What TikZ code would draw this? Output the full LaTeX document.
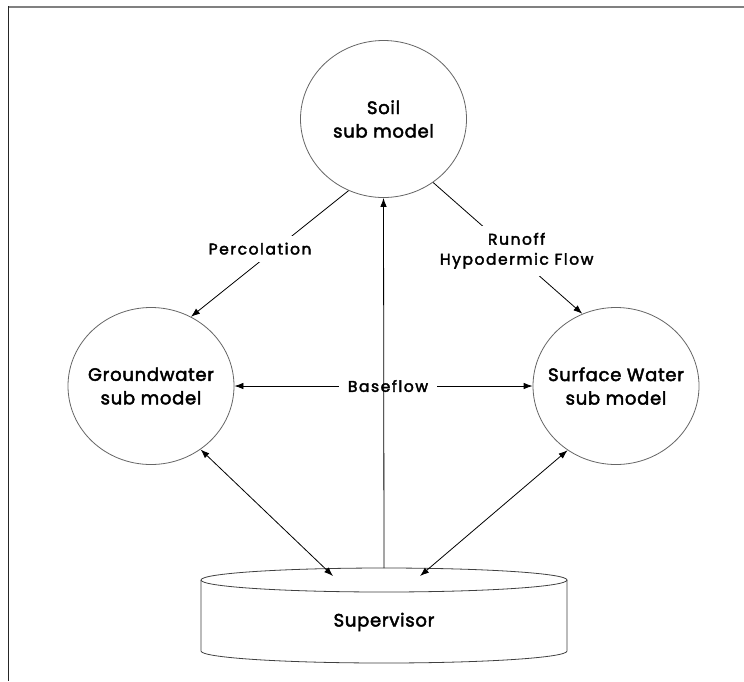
\documentclass[tikz,border=0pt]{standalone}
\usepackage{fontspec}
\setmainfont{Poppins}
\newfontfamily\nodefont{Poppins}[UprightFeatures={FakeBold=2.5},LetterSpace=4]
\newfontfamily\lblfont{Poppins}[UprightFeatures={FakeBold=2.5},LetterSpace=10]
\newfontfamily\widefont{Poppins}[UprightFeatures={FakeBold=2.5},LetterSpace=10]
\usetikzlibrary{shapes.geometric,arrows.meta}
\begin{document}
\begin{tikzpicture}[x=1pt,y=-1pt,
  submodel/.style={draw=black!60,line width=0.8pt,ellipse,inner sep=0pt,
    minimum width=166pt,minimum height=157pt},
  inside/.style={font=\nodefont\fontsize{18}{23.5}\selectfont,align=center,text=black},
  flow/.style={line width=0.8pt,-{Latex[length=9pt,width=6.5pt]}},
  both/.style={line width=0.8pt,{Latex[length=9pt,width=6.5pt]}-{Latex[length=9pt,width=6.5pt]}},
  lbl/.style={fill=white,font=\lblfont\fontsize{15.5}{20}\selectfont,align=center,inner sep=7pt}]
\useasboundingbox (0,0) rectangle (744,681);
\fill[white] (0,0) rectangle (744,681);
% frame
\draw[black!50,line width=2pt] (8,7) -- (744,7);
\draw[black!85,line width=1.6pt] (8.3,6) -- (8.3,681);

% sub models
\node[submodel,label={[inside]center:Soil\\sub model}] (soil) at (383.5,119) {};
\node[submodel,label={[inside]center:Groundwater\\sub model}] (gw) at (151,386) {};
\node[submodel,label={[inside]center:Surface Water\\sub model}] (sw) at (616,386) {};

% supervisor drum
\draw[black!75,line width=0.8pt]
  (201,580) arc[start angle=180,end angle=360,x radius=183,y radius=12]
  arc[start angle=0,end angle=180,x radius=183,y radius=12] -- cycle;
\draw[black!75,line width=0.8pt]
  (201,580) -- (201,651) arc[start angle=180,end angle=360,x radius=183,y radius=-12] -- (567,580);
\node[font=\nodefont\fontsize{18}{20}\selectfont] (sup) at (384,622) {Supervisor};
\coordinate (suptop) at (384,568);
\coordinate (supl) at (333,576);
\coordinate (supr) at (420,576);

% flows
\draw[flow] (soil.244) -- node[lbl,pos=0.46,xshift=-16pt]{Percolation} (gw.60);
\draw[flow] (soil.308) -- node[lbl,pos=0.52,xshift=6pt]{Runoff\\Hypodermic Flow} (sw.115);
\node[font=\widefont\fontsize{15.5}{18}\selectfont,inner xsep=9pt,inner ysep=2pt] (bf) at (388,386) {Baseflow};
\draw[flow] (bf.west) -- (gw.east);
\draw[flow] (bf.east) -- (sw.west);
\draw[both] (gw.308) -- (supl);
\draw[both] (sw.233) -- (supr);
\draw[flow] (suptop) -- (soil.south);
\end{tikzpicture}
\end{document}
